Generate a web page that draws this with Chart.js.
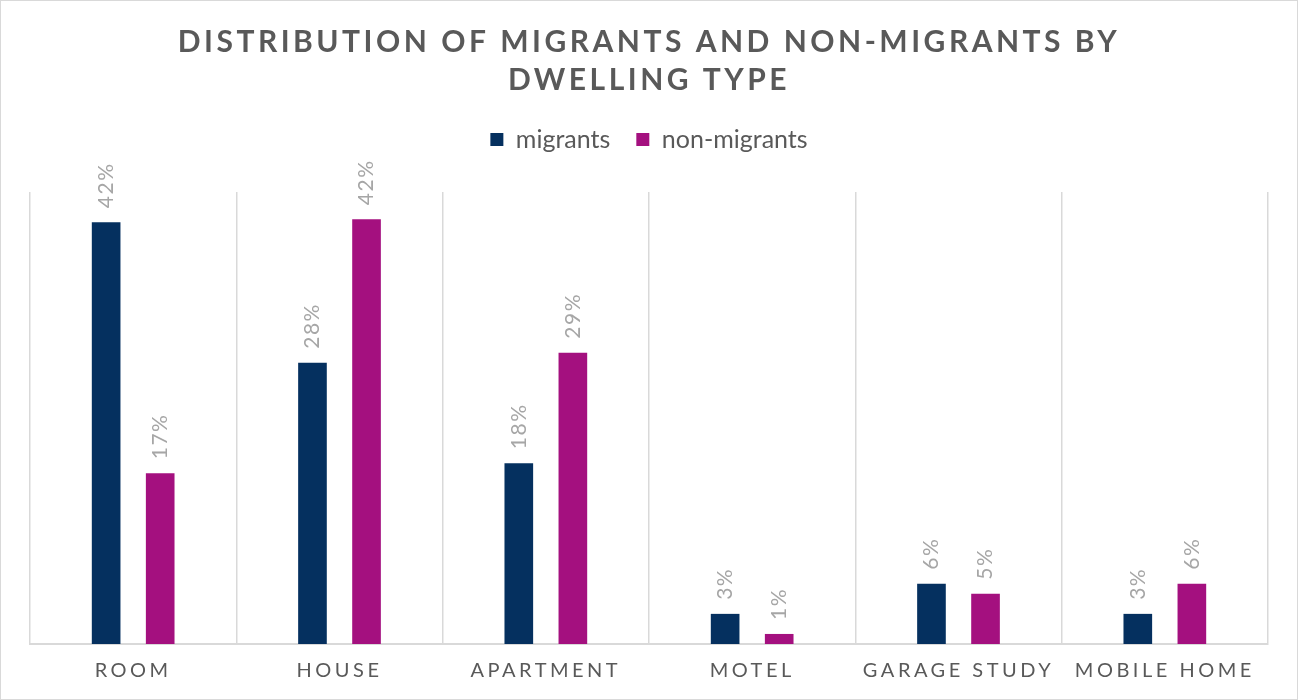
<!DOCTYPE html>
<html>
<head>
<meta charset="utf-8">
<script src="https://cdn.jsdelivr.net/npm/chart.js@4.4.1/dist/chart.umd.min.js"></script>
<style>
  html, body { margin: 0; padding: 0; background: #fff; }
  #wrap {
    position: absolute; left: 0; top: 0;
    width: 1298px; height: 700px;
    box-sizing: border-box;
    border: 1px solid #d9d9d9;
  }
</style>
</head>
<body>
<div id="wrap"><canvas id="chart"></canvas></div>
<script>
// data
const categories = ["ROOM", "HOUSE", "APARTMENT", "MOTEL", "GARAGE STUDY", "MOBILE HOME"];
const migrants = [42, 28, 18, 3, 6, 3];
const nonMigrants = [17, 42.3, 29, 1, 5, 6];
const seriesNames = ["migrants", "non-migrants"];
const titleLines = ["DISTRIBUTION OF MIGRANTS AND NON-MIGRANTS BY", "DWELLING TYPE"];

const FONT = "Lato";

// canvas letterSpacing isn't a Chart.js option, so wrap a few draw calls
function withSpacing(obj, fn, spacing) {
  if (!obj || obj["_spaced_" + fn]) return;
  const orig = obj[fn];
  obj[fn] = function (...args) {
    const ctx = this.ctx;
    ctx.save();
    ctx.letterSpacing = spacing;
    orig.apply(this, args);
    ctx.restore();
  };
  obj["_spaced_" + fn] = true;
}

const spacingPlugin = {
  id: "spacingPlugin",
  beforeLayout(chart) {
    // extra room between legend and plot area
    const lg = chart.legend;
    if (lg && !lg._padded) {
      const fit = lg.fit;
      lg.fit = function () {
        fit.call(this);
        this.height += 30;
      };
      lg._padded = true;
    }
  },
  afterLayout(chart) {
    withSpacing(chart.titleBlock, "draw", "3.5px");
    withSpacing(chart.scales.x, "drawLabels", "3.5px");
  }
};

// rotated value labels above each bar
const barLabels = {
  id: "barLabels",
  afterDatasetsDraw(chart) {
    const ctx = chart.ctx;
    chart.data.datasets.forEach((ds, i) => {
      chart.getDatasetMeta(i).data.forEach((bar, j) => {
        ctx.save();
        ctx.translate(bar.x, bar.y - 14);
        ctx.rotate(-Math.PI / 2);
        ctx.font = "21px " + FONT;
        ctx.letterSpacing = "1.5px";
        ctx.fillStyle = "#a6a6a6";
        ctx.textAlign = "left";
        ctx.textBaseline = "middle";
        ctx.fillText(Math.round(ds.data[j]) + "%", 0, 0);
        ctx.restore();
      });
    });
  }
};

new Chart(document.getElementById("chart"), {
  type: "bar",
  data: {
    labels: categories,
    datasets: [
      {
        label: seriesNames[0],
        data: migrants,
        backgroundColor: "#05305f",
        categoryPercentage: 0.524,
        barPercentage: 0.53
      },
      {
        label: seriesNames[1],
        data: nonMigrants,
        backgroundColor: "#a4107f",
        categoryPercentage: 0.524,
        barPercentage: 0.53
      }
    ]
  },
  options: {
    responsive: true,
    maintainAspectRatio: false,
    animation: false,
    layout: { padding: { left: 29, right: 29, top: 0, bottom: 1 } },
    plugins: {
      title: {
        display: true,
        text: titleLines,
        color: "#595959",
        font: { family: FONT, size: 30, weight: "bold", lineHeight: 1.267 },
        padding: { top: 22, bottom: 2 }
      },
      legend: {
        display: true,
        labels: {
          color: "#595959",
          font: { family: FONT, size: 25 },
          boxWidth: 13,
          boxHeight: 13,
          padding: 26
        }
      },
      tooltip: { enabled: false }
    },
    scales: {
      x: {
        grid: { color: "#d9d9d9", lineWidth: 1.5, drawTicks: false },
        border: { color: "#d9d9d9", width: 2 },
        ticks: {
          color: "#595959",
          font: { family: FONT, size: 20 },
          padding: 15,
          autoSkip: false,
          maxRotation: 0
        }
      },
      y: {
        display: false,
        min: 0,
        max: 45
      }
    }
  },
  plugins: [spacingPlugin, barLabels]
});
</script>
</body>
</html>
